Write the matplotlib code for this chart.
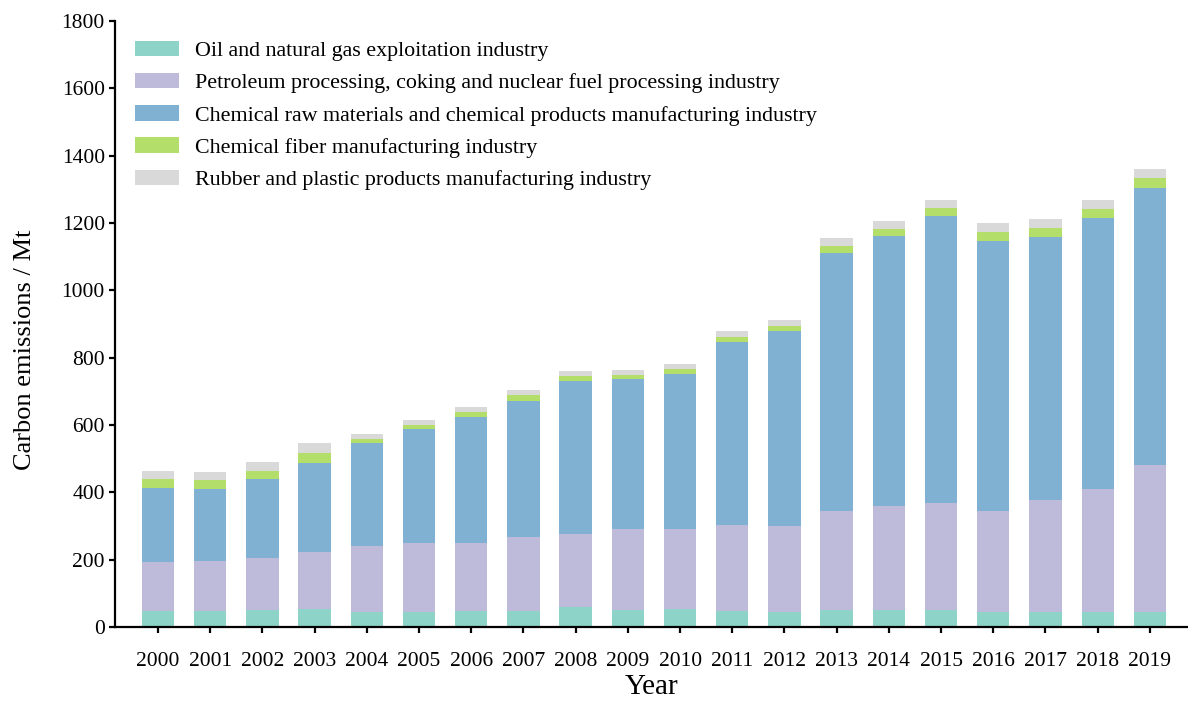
import numpy as np
import matplotlib
matplotlib.use("Agg")
import matplotlib.pyplot as plt

plt.rcParams['font.family'] = ['Liberation Serif', 'DejaVu Serif']

years = [str(y) for y in range(2000, 2020)]

oil_gas = [47, 48, 50, 53, 45, 45, 47, 47, 58, 50, 52, 48, 45, 50, 50, 50, 45, 45, 45, 45]
petroleum = [145, 149, 155, 170, 196, 204, 203, 220, 219, 242, 240, 255, 255, 294, 308, 319, 299, 332, 366, 436]
chemical = [221, 214, 234, 263, 305, 338, 373, 405, 454, 444, 460, 543, 579, 766, 804, 853, 803, 782, 803, 824]
fiber = [27, 26, 25, 32, 12, 13, 16, 16, 14, 13, 14, 16, 16, 22, 20, 23, 27, 26, 27, 30]
rubber = [23, 24, 26, 28, 14, 15, 14, 15, 14, 15, 15, 17, 17, 22, 23, 23, 25, 26, 27, 25]

labels = ["Oil and natural gas exploitation industry",
          "Petroleum processing, coking and nuclear fuel processing industry",
          "Chemical raw materials and chemical products manufacturing industry",
          "Chemical fiber manufacturing industry",
          "Rubber and plastic products manufacturing industry"]
colors = ["#8dd3c7", "#bebada", "#80b1d3", "#b3de69", "#d9d9d9"]

fig = plt.figure(figsize=(11.88, 7.02), dpi=100)
ax = fig.add_axes([0.097, 0.107, 0.903, 0.863])

x = np.arange(len(years))
bottom = np.zeros(len(years))
for vals, lab, c in zip([oil_gas, petroleum, chemical, fiber, rubber], labels, colors):
    ax.bar(x, vals, width=0.62, bottom=bottom, color=c, label=lab)
    bottom += np.array(vals)

ax.set_xlim(-0.82, 19.73)
ax.set_ylim(0, 1800)
ax.set_yticks(range(0, 1801, 200))
ax.set_xticks(x)
ax.set_xticklabels(years)
ax.spines['top'].set_visible(False)
ax.spines['right'].set_visible(False)
for s in ['left', 'bottom']:
    ax.spines[s].set_linewidth(1.6)
ax.tick_params(axis='both', width=1.6, length=4, labelsize=15.5, colors='black')
ax.tick_params(axis='x', pad=14)
ax.set_ylabel("Carbon emissions / Mt", fontsize=19)
ax.yaxis.set_label_coords(-0.074, 0.457)
ax.set_xlabel("Year", fontsize=21, labelpad=2)

ax.legend(loc='upper left', frameon=False, fontsize=15.8, handlelength=2.0,
          handleheight=0.7, handletextpad=0.75, labelspacing=0.54,
          borderaxespad=0.0, bbox_to_anchor=(0.01, 0.982))

fig.savefig("out.png", dpi=100)
